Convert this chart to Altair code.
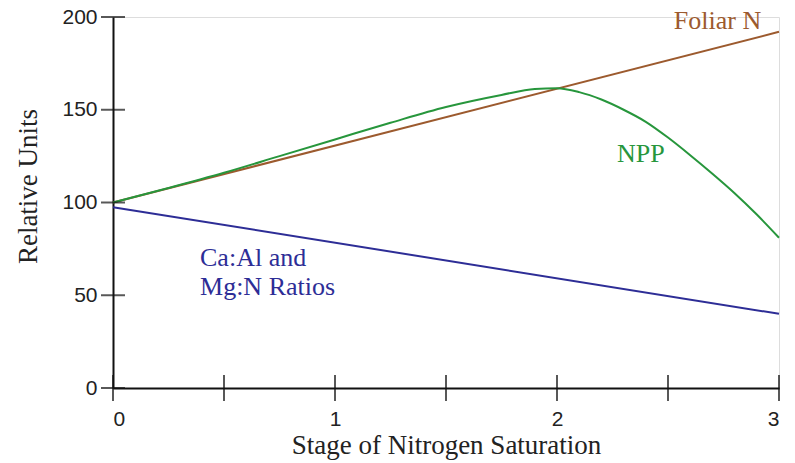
import altair as alt
import pandas as pd

# ---- data ----
npp_x = [0, 0.25, 0.5, 0.75, 1.0, 1.25, 1.5, 1.75, 1.9, 2.0, 2.1, 2.2, 2.3, 2.4, 2.5, 2.6, 2.7, 2.8, 2.9, 3.0]
npp_y = [100, 107.8, 116, 125, 134, 143, 151.5, 158, 161.2, 161.6, 159.5, 155.5, 150, 143.5, 135, 125.5, 115.5, 105, 93.5, 81]
foliar_x = [0, 3]
foliar_y = [100, 192]
ratio_x = [0, 3]
ratio_y = [97.5, 40]

series_names = ["Foliar N", "NPP", "Ca:Al and Mg:N Ratios"]
series_colors = ["#9c5a2e", "#27963c", "#2d2d96"]

x_ticks = [0, 0.5, 1, 1.5, 2, 2.5, 3]
x_labels = [0, 1, 2, 3]
y_ticks = [0, 50, 100, 150, 200]

label_text = ["Foliar N", "NPP", "Ca:Al and", "Mg:N Ratios"]
label_x = [2.92, 2.27, 0.392, 0.392]
label_y = [193.5, 121.8, 65.8, 50.1]
label_series = ["Foliar N", "NPP", "Ca:Al and Mg:N Ratios", "Ca:Al and Mg:N Ratios"]
label_align = ["right", "left", "left", "left"]

# ---- build tables ----
rows = []
for sx, sy, name in [(foliar_x, foliar_y, "Foliar N"), (npp_x, npp_y, "NPP"),
                     (ratio_x, ratio_y, "Ca:Al and Mg:N Ratios")]:
    for i, (a, b) in enumerate(zip(sx, sy)):
        rows.append({"x": a, "y": b, "series": name, "order": i})
lines_df = pd.DataFrame(rows)

labels_df = pd.DataFrame({"text": label_text, "x": label_x, "y": label_y,
                          "series": label_series, "align": label_align})

xscale = alt.Scale(domain=[0, 3], nice=False, zero=False)
yscale = alt.Scale(domain=[0, 200], nice=False)
cscale = alt.Scale(domain=series_names, range=series_colors)

x_axis = alt.Axis(values=x_labels, format="d", ticks=False, grid=False,
                  title="Stage of Nitrogen Saturation",
                  labelFont="Liberation Sans", labelFontSize=21, labelColor="#222",
                  labelPadding=20, labelFontWeight="normal",
                  titleFont="Liberation Serif", titleFontSize=27, titleFontWeight="normal",
                  titleColor="#222", titleBaseline="alphabetic", titleY=65,
                  domainColor="#111", domainWidth=2)
y_axis = alt.Axis(values=y_ticks, format="d", ticks=False, grid=False, title="Relative Units",
                  labelFont="Liberation Sans", labelFontSize=21, labelColor="#222",
                  labelPadding=16,
                  titleFont="Liberation Serif", titleFontSize=27, titleFontWeight="normal",
                  titleColor="#222", titleAngle=-90, titleBaseline="middle", titleAlign="center",
                  titleX=-85, titleY=169,
                  domainColor="#111", domainWidth=2)

lines = alt.Chart(lines_df).mark_line(strokeWidth=2, interpolate="monotone").encode(
    x=alt.X("x:Q", scale=xscale, axis=x_axis),
    y=alt.Y("y:Q", scale=yscale, axis=y_axis),
    color=alt.Color("series:N", scale=cscale, legend=None),
    order="order:Q",
)

def label_layer(align):
    sub = labels_df[labels_df["align"] == align]
    return alt.Chart(sub).mark_text(font="Liberation Serif", fontSize=26, align=align,
                                    baseline="alphabetic").encode(
        x=alt.X("x:Q", scale=xscale),
        y=alt.Y("y:Q", scale=yscale),
        text="text:N",
        color=alt.Color("series:N", scale=cscale, legend=None),
    )

yt = alt.Chart(pd.DataFrame({"v": y_ticks})).mark_tick(
    orient="horizontal", size=24, thickness=2, color="#111").encode(
    x=alt.datum(0, scale=xscale), y=alt.Y("v:Q", scale=yscale))
xt = alt.Chart(pd.DataFrame({"v": x_ticks})).mark_tick(
    orient="vertical", size=26, thickness=2, color="#111").encode(
    x=alt.X("v:Q", scale=xscale), y=alt.datum(0, scale=yscale))

chart = alt.layer(lines, label_layer("right"), label_layer("left"), yt, xt).properties(
    width=666, height=371,
    autosize=alt.AutoSizeParams(type="none"),
    padding={"left": 113, "top": 17, "right": 16, "bottom": 75},
).configure_view(stroke=None).configure(background="white")

chart.save("out.html", embed_options={"renderer": "svg", "actions": False})
